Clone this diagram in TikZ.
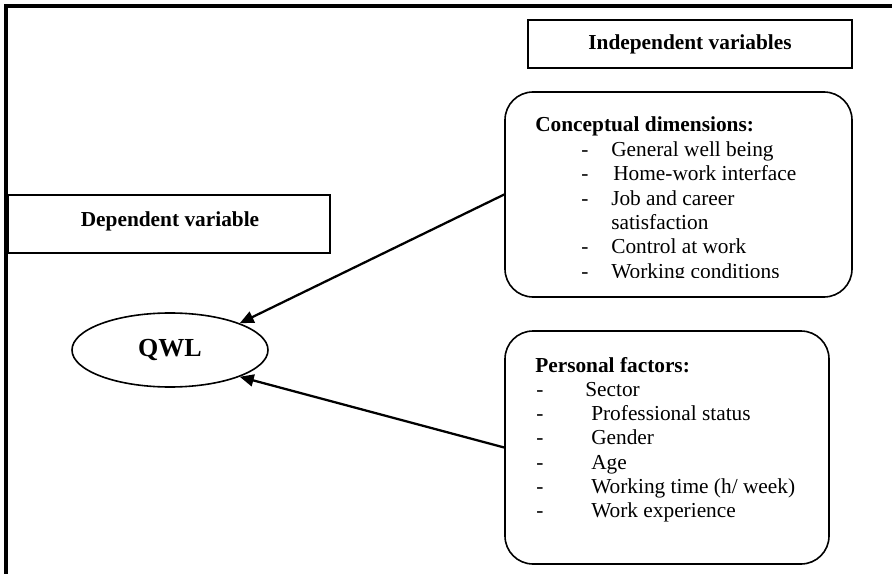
\documentclass[tikz,border=0pt]{standalone}
\usepackage{fontspec}
\setmainfont{Liberation Serif}
\usetikzlibrary{arrows.meta,shapes.geometric}
\begin{document}
\begin{tikzpicture}[x=0.75pt,y=-0.75pt,
  txt/.style={inner sep=0pt,font=\fontsize{16}{19}\selectfont,anchor=base west},
  btxt/.style={txt,font=\fontsize{16}{19}\selectfont\bfseries},
  ctxt/.style={inner sep=0pt,font=\fontsize{16}{19}\selectfont\bfseries},
  plainbox/.style={draw,line width=1.2pt,inner sep=0pt},
  roundbox/.style={draw,line width=1.2pt,inner sep=0pt,rounded corners=21pt},
  oval/.style={draw,ellipse,line width=1.2pt,inner sep=0pt},
  arr/.style={line width=1.7pt,-{Triangle[length=10.5pt,width=9pt]}},
  frame/.style={line width=3.4pt}
]
\useasboundingbox[fill=white] (0,0) rectangle (892,574);
% outer frame (top and left only)
\coordinate (fbl) at (6,574);
\coordinate (ftl) at (6,6);
\coordinate (ftr) at (892,6);
\draw[frame] (fbl) -- (ftl) -- (ftr);

% independent variables
\node[plainbox,minimum width=243pt,minimum height=36pt] (indep) at (690,44) {};
\node[ctxt] (indeptext) at (690,44) {Independent variables};

% dependent variable
\node[plainbox,minimum width=241.5pt,minimum height=43.5pt] (dep) at (169,224) {};
\node[ctxt] (deptext) at (170,221) {Dependent variable};

% QWL
\node[oval,minimum width=147pt,minimum height=55.5pt,font=\fontsize{19.5}{22}\selectfont\bfseries] (qwl) at (170,350) {QWL};

% conceptual dimensions
\node[roundbox,minimum width=260.25pt,minimum height=153.75pt] (concept) at (678.5,194.5) {};
\node[btxt] (c0) at (535,132) {Conceptual dimensions:};
\node[txt] (cd1) at (581,156.5) {-};
\node[txt] (c1) at (611,156.5) {General well being};
\node[txt] (cd2) at (581,180.8) {-};
\node[txt] (c2) at (613,180.8) {Home-work interface};
\node[txt] (cd3) at (581,205) {-};
\node[txt] (c3) at (611,205) {Job and career};
\node[txt] (c4) at (611,229.3) {satisfaction};
\node[txt] (cd5) at (581,253.6) {-};
\node[txt] (c5) at (611,253.6) {Control at work};
\begin{scope}
  \clip (500,90) rectangle (860,277.5);
  \node[txt] (cd6) at (581,278.5) {-};
  \node[txt] (c6) at (611,278.5) {Working conditions};
\end{scope}

% personal factors
\node[roundbox,minimum width=243pt,minimum height=174.75pt] (personal) at (667,447.5) {};
\node[btxt] (p0) at (535,372) {Personal factors:};
\node[txt] (pd1) at (536,396.3) {-};
\node[txt] (p1) at (585,396.3) {Sector};
\node[txt] (pd2) at (536,420.6) {-};
\node[txt] (p2) at (591,420.6) {Professional status};
\node[txt] (pd3) at (536,444.9) {-};
\node[txt] (p3) at (591,444.9) {Gender};
\node[txt] (pd4) at (536,469.2) {-};
\node[txt] (p4) at (591,469.2) {Age};
\node[txt] (pd5) at (536,493.5) {-};
\node[txt] (p5) at (591,493.5) {Working time (h/ week)};
\node[txt] (pd6) at (536,517.8) {-};
\node[txt] (p6) at (591,517.8) {Work experience};

% arrows
\draw[arr] (concept.west) -- (qwl.21);
\draw[arr] (personal.west) -- (qwl.-21);
\end{tikzpicture}
\end{document}
